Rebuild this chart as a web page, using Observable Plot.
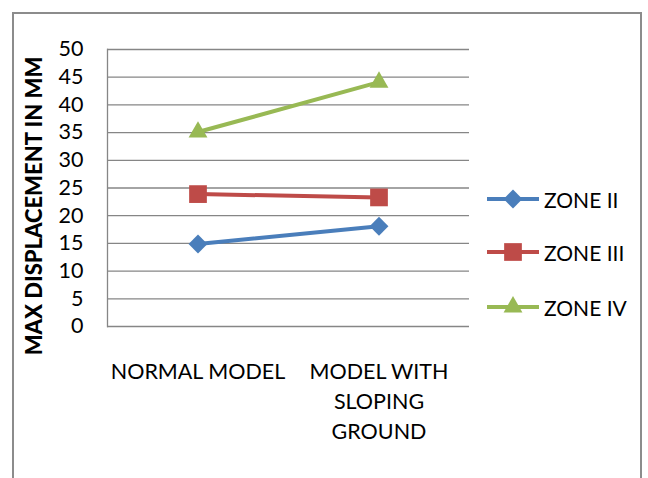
<!DOCTYPE html>
<html>
<head>
<meta charset="utf-8">
<script src="https://cdn.jsdelivr.net/npm/d3@7"></script>
<script src="https://cdn.jsdelivr.net/npm/@observablehq/plot@0.6"></script>
<style>
  html, body { margin: 0; padding: 0; background: #fff; }
  #wrap { position: relative; width: 648px; height: 478px; overflow: hidden; font-family: Lato, "Open Sans", sans-serif; }
  #frame { position: absolute; left: 12px; top: 12px; width: 630px; height: 500px; border: 2px solid #8c8c8c; box-sizing: border-box; }
  #chart { position: absolute; left: 0; top: 0; }
  #legend { position: absolute; left: 485px; top: 0; }
  .item { position: absolute; left: 0; display: flex; align-items: center; white-space: nowrap; font-size: 21px; color: #000; }
</style>
</head>
<body>
<div id="wrap"><div id="frame"></div><div id="chart"></div><div id="legend"></div></div>
<script>
const categories = ["NORMAL MODEL", "MODEL WITH\nSLOPING\nGROUND"];
const series = ["ZONE II", "ZONE III", "ZONE IV"];
const zone2 = [14.9, 18.1];
const zone3 = [23.9, 23.3];
const zone4 = [35.1, 44.1];
const yTicks = [0, 5, 10, 15, 20, 25, 30, 35, 40, 45, 50];
const colors = ["#4a7ebb", "#be4b48", "#98b954"];
const symbols = ["diamond2", "square", "triangle"];
const radii = [8.5, 10, 7];

const values = [zone2, zone3, zone4];
const data = [];
series.forEach((s, i) => categories.forEach((c, j) => data.push({series: s, cat: c, value: values[i][j]})));

const marks = [
  Plot.gridY(yTicks, {stroke: "#868686", strokeOpacity: 1, strokeWidth: 1.3}),
  Plot.frame({anchor: "left", stroke: "#868686", strokeWidth: 1.3}),
  Plot.axisY({ticks: yTicks, tickSize: 0, tickPadding: 24, fontSize: 21.5, label: null}),
  Plot.axisX({tickSize: 0, tickPadding: 31, fontSize: 21.5, label: null, lineHeight: 1.4}),
  Plot.text(["MAX DISPLACEMENT IN MM"], {frameAnchor: "left", textAnchor: "middle", dx: -73, dy: 18, rotate: -90, fontSize: 22, fontWeight: 900, fill: "#000"}),
  Plot.line(data, {x: "cat", y: "value", z: "series", stroke: "series", strokeWidth: 4})
];
series.forEach((s, i) => {
  marks.push(Plot.dot(data.filter(d => d.series === s), {x: "cat", y: "value", symbol: () => symbols[i], r: radii[i], fill: colors[i], stroke: "none"}));
});

const chart = Plot.plot({
  width: 648,
  height: 478,
  marginLeft: 107,
  marginRight: 179,
  marginTop: 49,
  marginBottom: 152,
  style: {fontFamily: "Lato, 'Open Sans', sans-serif", color: "#000", background: "transparent"},
  x: {type: "band", domain: categories, padding: 0, axis: null},
  y: {domain: [0, 50], axis: null},
  color: {domain: series, range: colors},
  symbol: {type: "identity"},
  marks
});
document.getElementById("chart").appendChild(chart);

const legend = document.getElementById("legend");
const ys = [199, 252, 307];
series.forEach((s, i) => {
  const item = document.createElement("div");
  item.className = "item";
  item.style.top = (ys[i] - 14) + "px";
  const sw = d3.create("svg").attr("width", 56).attr("height", 28);
  sw.append("line").attr("x1", 2).attr("x2", 54).attr("y1", 14).attr("y2", 14).attr("stroke", colors[i]).attr("stroke-width", 4);
  const sym = {diamond2: d3.symbolDiamond2, square: d3.symbolSquare, triangle: d3.symbolTriangle}[symbols[i]];
  sw.append("path").attr("transform", "translate(28,14)").attr("d", d3.symbol(sym, Math.PI * radii[i] * radii[i])()).attr("fill", colors[i]);
  item.appendChild(sw.node());
  const t = document.createElement("span");
  t.textContent = s;
  t.style.marginLeft = "3px";
  item.appendChild(t);
  legend.appendChild(item);
});
</script>
</body>
</html>
